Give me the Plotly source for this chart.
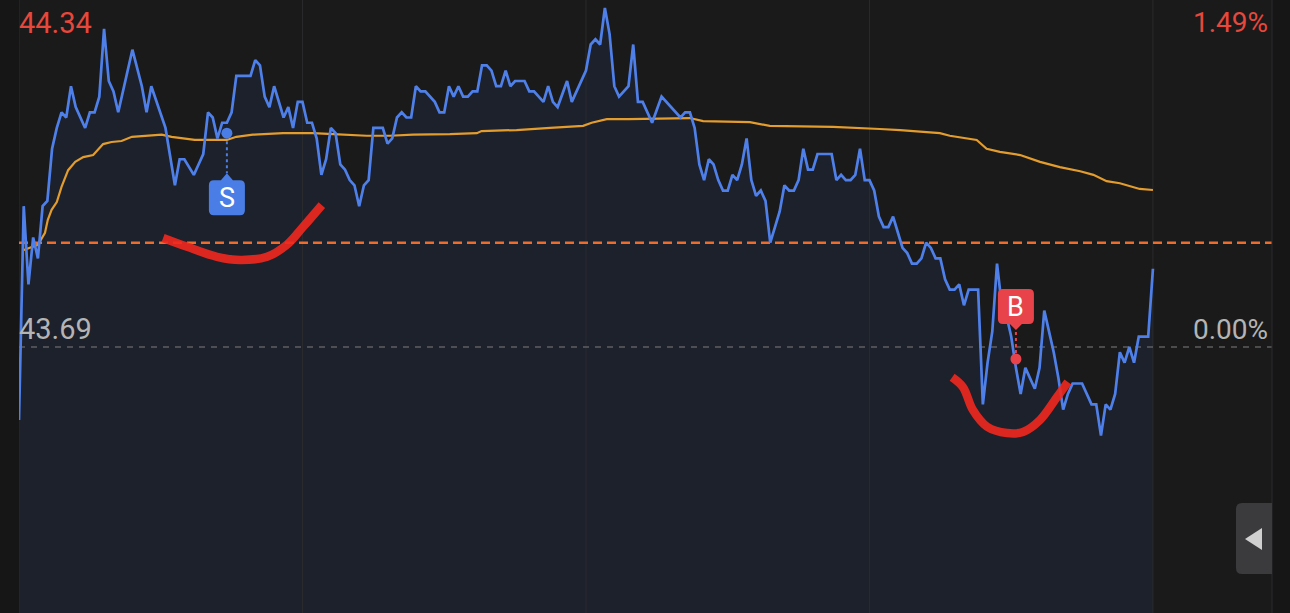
import plotly.graph_objects as go

# ---- data (minute index from open, price) ----
price_min = [0, 1, 2, 3, 4, 5, 6, 7, 8, 9, 10, 11, 12, 14, 15, 16, 17, 18, 19, 20, 21, 24, 26, 27, 28, 31,
             33, 34, 35, 37, 38, 39, 40, 41, 42, 43, 44, 45, 46, 49, 50, 51, 52, 53, 54, 55, 56, 57, 58, 59,
             60, 61, 62, 63, 64, 65, 66, 67, 68, 69, 70, 71, 72, 73, 74, 75, 77, 78, 79, 80, 81, 82, 83, 84,
             85, 86, 88, 89, 90, 91, 92, 93, 94, 95, 96, 97, 98, 99, 100, 101, 102, 103, 104, 105, 107, 108,
             109, 111, 112, 113, 114, 116, 117, 120, 121, 122, 123, 124, 125, 126, 127, 129, 130, 131, 132,
             134, 136, 140, 141, 142, 143, 144, 145, 146, 147, 148, 149, 150, 151, 152, 153, 154, 155, 156,
             157, 158, 159, 160, 161, 162, 163, 164, 165, 166, 167, 168, 169, 172, 173, 174, 175, 176, 177,
             178, 179, 180, 181, 182, 183, 184, 185, 186, 187, 188, 189, 190, 191, 192, 193, 194, 195, 196,
             197, 198, 199, 200, 201, 203, 204, 205, 206, 207, 208, 209, 210, 211, 212, 213, 214, 215, 216,
             217, 218, 219, 220, 221, 222, 223, 225, 226, 227, 228, 229, 230, 231, 232, 233, 234, 235, 236,
             237, 239, 240]
price_val = [43.55, 43.96, 43.81, 43.90, 43.86, 43.96, 43.97, 44.07, 44.11, 44.14, 44.13, 44.19, 44.15, 44.11,
             44.14, 44.14, 44.17, 44.30, 44.20, 44.18, 44.14, 44.26, 44.19, 44.14, 44.19, 44.11,
             44.00, 44.05, 44.05, 44.02, 44.04, 44.06, 44.14, 44.13, 44.09, 44.12, 44.12, 44.14, 44.21, 44.21,
             44.24, 44.23, 44.17, 44.15, 44.19, 44.16, 44.13, 44.15, 44.11, 44.16,
             44.16, 44.12, 44.12, 44.09, 44.02, 44.05, 44.11, 44.10, 44.04, 44.03, 44.01, 44.00, 43.96, 44.00,
             44.01, 44.11, 44.11, 44.08, 44.09, 44.13, 44.14, 44.13, 44.13, 44.19,
             44.18, 44.18, 44.16, 44.14, 44.14, 44.19, 44.17, 44.19, 44.17, 44.17, 44.18, 44.18, 44.23, 44.23,
             44.22, 44.19, 44.19, 44.22, 44.19, 44.20, 44.20, 44.18,
             44.18, 44.16, 44.19, 44.16, 44.15, 44.20, 44.16, 44.22, 44.27, 44.28, 44.27, 44.34, 44.29, 44.19,
             44.17, 44.19, 44.27, 44.16, 44.16,
             44.12, 44.17, 44.13, 44.14, 44.14, 44.11, 44.04, 44.01, 44.05, 44.04, 44.01, 43.99, 43.99, 44.02,
             44.01, 44.04, 44.09, 44.01, 43.98,
             43.99, 43.97, 43.89, 43.92, 43.95, 44.00, 43.99, 43.99, 44.01, 44.07, 44.03, 44.03, 44.06, 44.06,
             44.01, 44.02, 44.01, 44.01, 44.02,
             44.07, 44.01, 44.01, 43.99, 43.94, 43.92, 43.92, 43.94, 43.91, 43.88, 43.87, 43.85, 43.85, 43.86,
             43.89, 43.88, 43.86, 43.86, 43.82,
             43.80, 43.80, 43.81, 43.77, 43.80, 43.80, 43.58, 43.66, 43.72, 43.85, 43.77, 43.75, 43.71, 43.65,
             43.60, 43.65, 43.63, 43.61, 43.65,
             43.76, 43.72, 43.68, 43.63, 43.57, 43.60, 43.62, 43.62, 43.60, 43.58, 43.58, 43.52, 43.58, 43.57,
             43.60, 43.68, 43.66, 43.69, 43.66,
             43.71, 43.71, 43.84]

avg_min = [1, 3, 4, 5.5, 6.1, 6.9, 8, 9, 10.4, 11.9, 13.6, 15.7, 16.8, 17.8, 19.6, 21.7, 23.9, 27.3, 30.2,
           32.3, 34.4, 37.2, 40.4, 44, 46, 49.5, 55.9, 62.2, 66.5, 73.6, 78.5, 83.4, 91.2, 96.9, 97.9,
           105.3, 112.4, 119.4, 121.2, 124.4, 129, 142, 144.8, 154.7, 158.9, 172.3, 182.2, 186.5, 194.9,
           197, 202.7, 204.8, 207.6, 211.9, 216.1, 220.3, 224.6, 227.4, 230.2, 233, 237.2, 240]
avg_val = [43.876, 43.882, 43.886, 43.909, 43.934, 43.953, 43.968, 43.997, 44.029, 44.045, 44.054, 44.058,
           44.068, 44.079, 44.083, 44.085, 44.093, 44.095, 44.097, 44.093, 44.091, 44.087, 44.087, 44.087,
           44.093, 44.097, 44.100, 44.100, 44.098, 44.095, 44.095, 44.097, 44.098, 44.100, 44.104, 44.106,
           44.110, 44.114, 44.120, 44.127, 44.127, 44.129, 44.123, 44.121, 44.114, 44.112, 44.108, 44.106,
           44.100, 44.095, 44.087, 44.070, 44.064, 44.058, 44.045, 44.035, 44.027, 44.020, 44.008, 44.004,
           43.993, 43.991]

prev_close = 43.69
ref_line = 43.89
high_label = "44.34"
high_pct = "1.49%"
base_label = "43.69"
base_pct = "0.00%"
session_ticks = [0, 60, 120, 180, 240]

sell_point = (44, 44.10)
buy_point = (211, 43.667)

stroke1_min = [30.5, 35.6, 41.9, 46.8, 52.5, 56.7, 60.1, 64.1]
stroke1_val = [43.899, 43.882, 43.863, 43.857, 43.863, 43.886, 43.920, 43.962]
stroke2_min = [197.5, 199.8, 201.9, 204.9, 209.1, 212.5, 216.1, 219.7, 222.0]
stroke2_val = [43.632, 43.613, 43.569, 43.537, 43.525, 43.527, 43.550, 43.594, 43.623]

X_RANGE = [0, 265.2]
Y_RANGE = [43.180, 44.3553]

BLUE = "#4f80ea"
ORANGE_AVG = "#e39c2e"
RED_TXT = "#e8473a"
GRAY_TXT = "#b4b4b4"

fig = go.Figure()

# area fill under price
fig.add_trace(go.Scatter(x=price_min, y=price_val, mode="lines", line=dict(width=0, color=BLUE),
                         fill="tozeroy", fillcolor="#1c212b", hoverinfo="skip", showlegend=False))
# vertical session grid lines
for t in session_ticks:
    fig.add_trace(go.Scatter(x=[t, t], y=Y_RANGE, mode="lines", line=dict(color="#2b2b2e", width=1),
                             hoverinfo="skip", showlegend=False))
# prev close dashed
fig.add_trace(go.Scatter(x=X_RANGE, y=[prev_close, prev_close], mode="lines",
                         line=dict(color="#7e7e7e", width=1, dash="6px,6px"), hoverinfo="skip", showlegend=False))
# orange reference dashed
fig.add_trace(go.Scatter(x=X_RANGE, y=[ref_line, ref_line], mode="lines",
                         line=dict(color="#ee6c2c", width=2.5, dash="9px,5px"), hoverinfo="skip", showlegend=False))
# average line
fig.add_trace(go.Scatter(x=avg_min, y=avg_val, mode="lines", line=dict(color=ORANGE_AVG, width=2.2),
                         showlegend=False))
# price line
fig.add_trace(go.Scatter(x=price_min, y=price_val, mode="lines", line=dict(color=BLUE, width=2.7),
                         showlegend=False))
# hand-drawn strokes
for sx, sy in [(stroke1_min, stroke1_val), (stroke2_min, stroke2_val)]:
    fig.add_trace(go.Scatter(x=sx, y=sy, mode="lines", line=dict(color="#f0281f", width=8.5, shape="spline"),
                             opacity=0.9, hoverinfo="skip", showlegend=False))

# S / B points
fig.add_trace(go.Scatter(x=[sell_point[0]], y=[sell_point[1]], mode="markers",
                         marker=dict(size=11, color="#4a7ee6"), showlegend=False))
fig.add_trace(go.Scatter(x=[buy_point[0]], y=[buy_point[1]], mode="markers",
                         marker=dict(size=11, color="#e8434a"), showlegend=False))

shapes = []
S_COL = "#4a7ee6"
B_COL = "#e8434a"
s_path = ("M -13,-47 L 13,-47 Q 18,-47 18,-52 L 18,-77 Q 18,-82 13,-82 L -13,-82 Q -18,-82 -18,-77 "
          "L -18,-52 Q -18,-47 -13,-47 Z M -6,-47 L 0,-40 L 6,-47 Z")
shapes.append(dict(type="path", xref="x", yref="y", xsizemode="pixel", ysizemode="pixel",
                   xanchor=sell_point[0], yanchor=sell_point[1], path=s_path,
                   fillcolor=S_COL, line=dict(width=0)))
shapes.append(dict(type="line", xref="x", yref="y", xsizemode="pixel", ysizemode="pixel",
                   xanchor=sell_point[0], yanchor=sell_point[1], x0=0, x1=0, y0=-8, y1=-40,
                   line=dict(color=S_COL, width=2, dash="dot")))
b_path = ("M -13,35 L 13,35 Q 18,35 18,40 L 18,65 Q 18,70 13,70 L -13,70 Q -18,70 -18,65 "
          "L -18,40 Q -18,35 -13,35 Z M -6,35 L 0,29 L 6,35 Z")
shapes.append(dict(type="path", xref="x", yref="y", xsizemode="pixel", ysizemode="pixel",
                   xanchor=buy_point[0], yanchor=buy_point[1], path=b_path,
                   fillcolor=B_COL, line=dict(width=0)))
shapes.append(dict(type="line", xref="x", yref="y", xsizemode="pixel", ysizemode="pixel",
                   xanchor=buy_point[0], yanchor=buy_point[1], x0=0, x1=0, y0=6, y1=29,
                   line=dict(color=B_COL, width=2, dash="dot")))
# right border line
shapes.append(dict(type="line", xref="paper", yref="paper", x0=1, x1=1, y0=0, y1=1,
                   line=dict(color="#2b2b2e", width=1)))
# collapse button
shapes.append(dict(type="path", xref="paper", yref="paper", xsizemode="pixel", ysizemode="pixel",
                   xanchor=1, yanchor=0,
                   path="M 0,39 L -30,39 Q -36,39 -36,45 L -36,104 Q -36,110 -30,110 L 0,110 Z",
                   fillcolor="#3b3b3d", line=dict(width=0)))
shapes.append(dict(type="path", xref="paper", yref="paper", xsizemode="pixel", ysizemode="pixel",
                   xanchor=1, yanchor=0, path="M -27,74 L -10,85 L -10,63 Z",
                   fillcolor="#d0d0d0", line=dict(width=0)))

FONT = "Roboto"
annotations = [
    dict(text=high_label, xref="x", yref="paper", x=0, y=1 - 22.5 / 613, xanchor="left", yanchor="middle",
         xshift=-2, showarrow=False, font=dict(family=FONT, size=29, color=RED_TXT)),
    dict(text=high_pct, xref="paper", yref="paper", x=1, y=1 - 22.5 / 613, xanchor="right", yanchor="middle",
         xshift=-2, showarrow=False, font=dict(family=FONT, size=28, color=RED_TXT)),
    dict(text=base_label, xref="x", yref="y", x=0, y=prev_close, xanchor="left", yanchor="bottom",
         xshift=-2, yshift=-1, showarrow=False, font=dict(family=FONT, size=29, color=GRAY_TXT)),
    dict(text=base_pct, xref="paper", yref="y", x=1, y=prev_close, xanchor="right", yanchor="bottom",
         xshift=-2, yshift=-1, showarrow=False, font=dict(family=FONT, size=28, color=GRAY_TXT)),
    dict(text="S", xref="x", yref="y", x=sell_point[0], y=sell_point[1], yshift=-64.5, showarrow=False,
         font=dict(family=FONT, size=27, color="white")),
    dict(text="B", xref="x", yref="y", x=buy_point[0], y=buy_point[1], yshift=52.5, showarrow=False,
         font=dict(family=FONT, size=27, color="white")),
]

fig.update_layout(
    width=1290, height=613,
    margin=dict(l=19, r=18, t=0, b=0),
    paper_bgcolor="#161616",
    plot_bgcolor="#1a1a1a",
    xaxis=dict(range=X_RANGE, showgrid=False, zeroline=False, showticklabels=False, fixedrange=True),
    yaxis=dict(range=Y_RANGE, showgrid=False, zeroline=False, showticklabels=False, fixedrange=True),
    shapes=shapes,
    annotations=annotations,
    showlegend=False,
)

fig.write_html("out.html", config={"displayModeBar": False},
               post_script="document.body.style.margin='0';document.body.style.overflow='hidden';")
